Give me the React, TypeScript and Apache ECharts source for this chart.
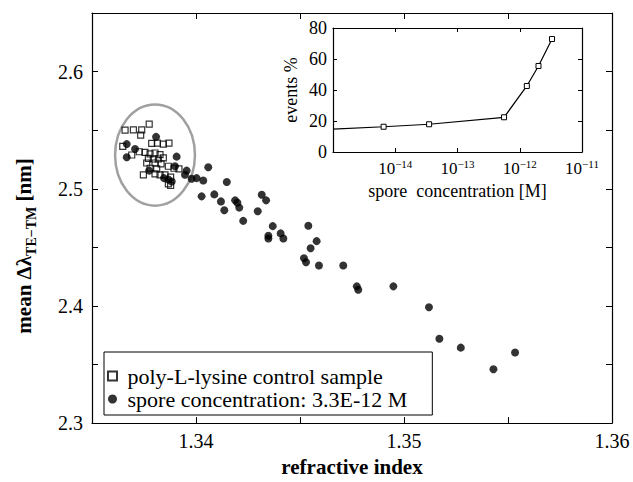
import React, { useEffect, useRef } from 'react';
import * as echarts from 'echarts';

const FONT = 'Liberation Serif';

// main plot: [refractive index, mean delta lambda (nm)]
const controlSamples: [number, number][] = [
  [1.33775, 2.5551], [1.33659, 2.55], [1.33699, 2.5503], [1.33739, 2.5503], [1.33734, 2.5458],
  [1.33787, 2.5387], [1.33814, 2.539], [1.33843, 2.5381], [1.3387, 2.539], [1.33648, 2.5362],
  [1.33691, 2.5288], [1.33727, 2.5316], [1.33755, 2.5311], [1.33779, 2.5297], [1.33803, 2.5305],
  [1.33827, 2.5291], [1.33771, 2.526], [1.33795, 2.5254], [1.33819, 2.5254], [1.33843, 2.5263],
  [1.33763, 2.522], [1.33803, 2.522], [1.33832, 2.5212], [1.33867, 2.5192], [1.33894, 2.5175],
  [1.33918, 2.5169], [1.33779, 2.5175], [1.33811, 2.5169], [1.33747, 2.5119], [1.33803, 2.5127],
  [1.33827, 2.5119], [1.33851, 2.5119], [1.33878, 2.5099], [1.33867, 2.5042], [1.33878, 2.5028],
];

const sporeSamples: [number, number][] = [
  [1.33808, 2.5443], [1.33667, 2.5381], [1.33707, 2.5339], [1.33667, 2.5269], [1.33907, 2.5274],
  [1.33899, 2.5192], [1.33775, 2.5155], [1.33955, 2.5155], [1.33947, 2.5119], [1.33846, 2.5091],
  [1.33867, 2.5079], [1.33883, 2.5062], [1.34059, 2.5184], [1.34003, 2.5091], [1.33979, 2.5085],
  [1.34035, 2.507], [1.34027, 2.4935], [1.34088, 2.4952], [1.34148, 2.5057], [1.3412, 2.4892],
  [1.34136, 2.4816], [1.34188, 2.4901], [1.34199, 2.4881], [1.34208, 2.4839], [1.34227, 2.4726],
  [1.34297, 2.4808], [1.34316, 2.4949], [1.34337, 2.4901], [1.34369, 2.4681], [1.34348, 2.4599],
  [1.34348, 2.4576], [1.34407, 2.4619], [1.3442, 2.4576], [1.3454, 2.4684], [1.3458, 2.4553],
  [1.34551, 2.4492], [1.34519, 2.4407], [1.34529, 2.4373], [1.34591, 2.4345], [1.34708, 2.4345],
  [1.34773, 2.4167], [1.3478, 2.4138], [1.34949, 2.4167], [1.3512, 2.3989], [1.3517, 2.372],
  [1.35273, 2.3644], [1.35534, 2.3602], [1.3543, 2.346],
];

// highlight ellipse: [cx, cy, rx, ry] in data units
const clusterEllipse: number[] = [1.33803, 2.5288, 0.00192, 0.0432];

// inset: spore concentration (M) vs events %
const insetConcentration = [1e-15, 6.5e-15, 3.5e-14, 5.6e-13, 1.3e-12, 2.0e-12, 3.3e-12];
const insetEvents = [14.8, 16.3, 17.9, 22.4, 42.6, 55.5, 72.9];

const seriesNames = ['poly-L-lysine control sample', 'spore concentration: 3.3E-12 M'];

const axisLine = { show: true, onZero: false, lineStyle: { color: '#000', width: 1.2 } };

export default function App() {
  const ref = useRef<HTMLDivElement>(null);
  useEffect(() => {
    document.body.style.margin = '0';
    const chart = echarts.init(ref.current!, undefined, { renderer: 'svg' });

    const mainX = (v: number) =>
      Math.abs(v * 100 - Math.round(v * 100)) < 1e-6 && v > 1.336 ? v.toFixed(2) : '';
    const mainY = (v: number) =>
      Math.abs(v * 10 - Math.round(v * 10)) < 1e-6 ? v.toFixed(1) : '';
    const logLabel = (v: number) => {
      const e = Math.round(Math.log10(v));
      if (e <= -15) return '';
      return '{b|10}{s|' + String(e).replace('-', '\u2212') + '}';
    };

    const mainTick = { show: true, inside: true, length: 6, lineStyle: { color: '#000', width: 1 } };
    const insetTick = { show: true, inside: true, length: 4, lineStyle: { color: '#000', width: 1 } };

    chart.setOption({
      animation: false,
      backgroundColor: '#fff',
      textStyle: { fontFamily: FONT },
      grid: [
        { left: 92, right: 21, top: 13, bottom: 56, show: false },
        { left: 333, top: 28, width: 249, height: 124, show: true, backgroundColor: '#fff', borderWidth: 0 },
      ],
      xAxis: [
        {
          gridIndex: 0, type: 'value', min: 1.335, max: 1.36, interval: 0.005, position: 'bottom',
          axisLine, axisTick: mainTick, splitLine: { show: false },
          axisLabel: { formatter: mainX, fontSize: 20, color: '#000', fontFamily: FONT, margin: 8 },
          name: 'refractive index', nameLocation: 'middle', nameGap: 30,
          nameTextStyle: { fontSize: 21, fontWeight: 'bold', color: '#000', fontFamily: FONT },
        },
        {
          gridIndex: 0, type: 'value', min: 1.335, max: 1.36, interval: 0.005, position: 'top',
          axisLine, axisTick: mainTick, splitLine: { show: false }, axisLabel: { show: false },
        },
        {
          gridIndex: 1, type: 'log', logBase: 10, min: 1e-15, max: 1e-11, position: 'bottom',
          axisLine, axisTick: insetTick, splitLine: { show: false },
          axisLabel: {
            formatter: logLabel, color: '#000', margin: 6, fontFamily: FONT,
            rich: {
              b: { fontSize: 17, fontFamily: FONT, color: '#000', lineHeight: 20 },
              s: { fontSize: 11, fontFamily: FONT, color: '#000', verticalAlign: 'top', lineHeight: 12 },
            },
          },
          name: 'spore  concentration [M]', nameLocation: 'middle', nameGap: 30,
          nameTextStyle: { fontSize: 18, color: '#000', fontFamily: FONT },
        },
        {
          gridIndex: 1, type: 'log', logBase: 10, min: 1e-15, max: 1e-11, position: 'top',
          axisLine, axisTick: insetTick, splitLine: { show: false }, axisLabel: { show: false },
        },
      ],
      yAxis: [
        {
          gridIndex: 0, type: 'value', min: 2.3, max: 2.65, interval: 0.05, position: 'left',
          axisLine, axisTick: mainTick, splitLine: { show: false },
          axisLabel: { formatter: mainY, fontSize: 20, color: '#000', fontFamily: FONT, margin: 9 },
        },
        {
          gridIndex: 0, type: 'value', min: 2.3, max: 2.65, interval: 0.05, position: 'right',
          axisLine, axisTick: mainTick, splitLine: { show: false }, axisLabel: { show: false },
        },
        {
          gridIndex: 1, type: 'value', min: 0, max: 80, interval: 20, position: 'left',
          axisLine, axisTick: insetTick, splitLine: { show: false },
          axisLabel: { fontSize: 18, color: '#000', fontFamily: FONT, margin: 6 },
          name: 'events %', nameLocation: 'middle', nameGap: 33, nameRotate: 90,
          nameTextStyle: { fontSize: 18, color: '#000', fontFamily: FONT },
        },
        {
          gridIndex: 1, type: 'value', min: 0, max: 80, interval: 20, position: 'right',
          axisLine, axisTick: insetTick, splitLine: { show: false }, axisLabel: { show: false },
        },
      ],
      legend: {
        data: [
          { name: seriesNames[0], icon: 'path://M0,0h10v10h-10z' },
          { name: seriesNames[1], icon: 'circle' },
        ],
        symbolKeepAspect: true,
        orient: 'vertical', left: 104, top: 352,
        itemGap: 1, itemWidth: 20, itemHeight: 9,
        padding: [13, 25, 5, 3],
        borderColor: '#000', borderWidth: 1, backgroundColor: '#fff', borderRadius: 0,
        textStyle: { fontSize: 22, fontFamily: FONT, color: '#000', lineHeight: 22 },
      },
      graphic: [
        {
          type: 'text', x: 24, y: 246, rotation: Math.PI / 2,
          style: {
            text: '{m|mean \u0394\u03bb}{s|TE\u2212TM}{m| [nm]}',
            align: 'center', verticalAlign: 'middle', fill: '#000',
            rich: {
              m: { fontSize: 21, fontWeight: 'bold', fontFamily: FONT, fill: '#000', lineHeight: 28 },
              s: { fontSize: 14, fontWeight: 'bold', fontFamily: FONT, fill: '#000', lineHeight: 14, verticalAlign: 'bottom' },
            },
          },
        },
      ],
      series: [
        {
          type: 'custom', xAxisIndex: 0, yAxisIndex: 0, silent: true, z: 1,
          data: [clusterEllipse],
          renderItem: (params: any, api: any) => {
            const c = api.coord([api.value(0), api.value(1)]);
            const e = api.coord([api.value(0) + api.value(2), api.value(1) + api.value(3)]);
            return {
              type: 'ellipse',
              shape: { cx: c[0], cy: c[1], rx: Math.abs(e[0] - c[0]), ry: Math.abs(e[1] - c[1]) },
              style: { fill: 'none', stroke: '#a0a0a0', lineWidth: 2.5 },
            };
          },
        },
        {
          name: seriesNames[0], type: 'scatter', xAxisIndex: 0, yAxisIndex: 0, z: 2,
          data: controlSamples, symbol: 'rect', symbolSize: 6,
          itemStyle: { color: 'rgba(255,255,255,0)', borderColor: '#000', borderWidth: 1.2 },
        },
        {
          name: seriesNames[1], type: 'scatter', xAxisIndex: 0, yAxisIndex: 0, z: 3,
          data: sporeSamples, symbol: 'circle', symbolSize: 8,
          itemStyle: { color: '#000' },
        },
        {
          type: 'line', xAxisIndex: 2, yAxisIndex: 2, z: 4,
          data: insetConcentration.map((c, i) => ({
            value: [c, insetEvents[i]],
            symbol: i === 0 ? 'none' : 'rect',
          })),
          symbol: 'rect', symbolSize: 5, showAllSymbol: true,
          lineStyle: { color: '#000', width: 1.2 },
          itemStyle: { color: '#fff', borderColor: '#000', borderWidth: 1 },
        },
      ],
    });
    return () => chart.dispose();
  }, []);
  return <div ref={ref} style={{ width: 633, height: 482, position: 'absolute', left: 0, top: 0 }} />;
}
